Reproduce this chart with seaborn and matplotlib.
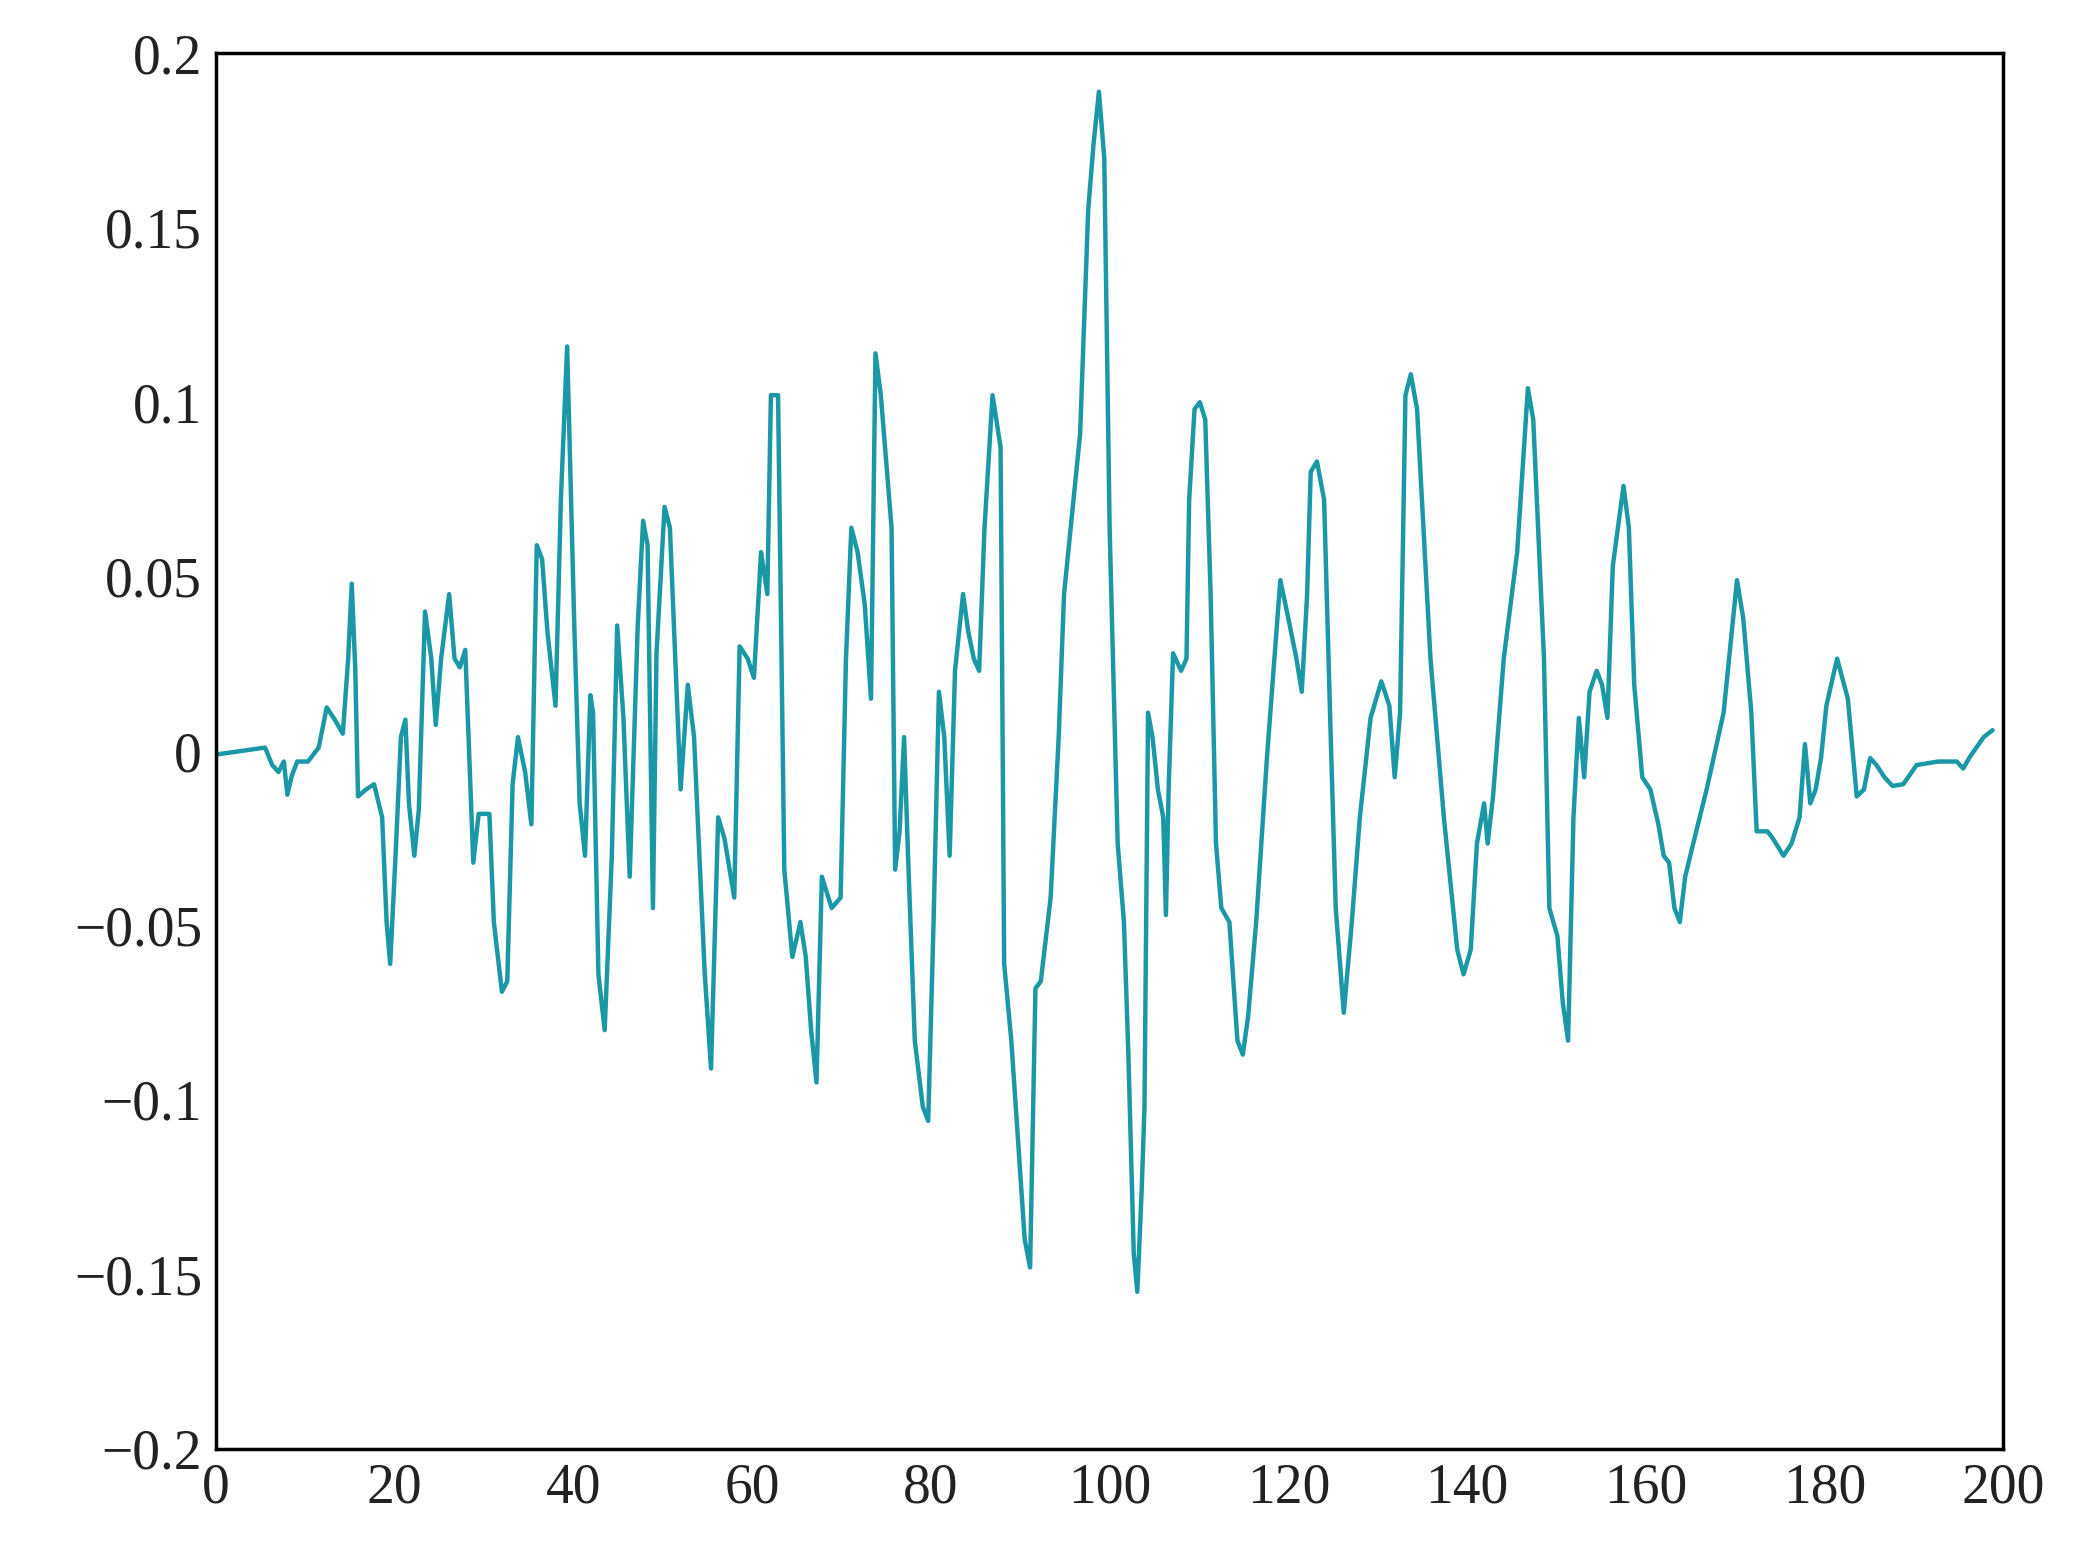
import numpy as np
import pandas as pd
import seaborn as sns
import matplotlib
matplotlib.use("Agg")
import matplotlib.pyplot as plt

x_vals = [0,5.5,6.3,7.0,7.6,8.0,8.5,9.1,10.3,11.5,12.4,13.3,14.2,14.8,15.2,15.6,15.9,16.8,17.7,18.6,19.1,19.5,20.1,20.7,21.2,21.6,22.2,22.7,23.4,24.1,24.6,25.2,26.1,26.7,27.3,27.9,28.8,29.4,30.6,31.1,32.0,32.6,33.2,33.8,34.6,35.3,35.9,36.5,37.1,38.0,38.6,39.3,40.1,40.7,41.3,41.9,42.2,42.8,43.5,44.3,44.9,45.6,46.3,47.2,47.8,48.3,48.9,49.3,50.2,50.8,51.4,52.0,52.8,53.5,54.7,55.4,56.2,56.9,58.0,58.6,59.5,60.2,61.0,61.7,62.1,62.9,63.6,64.5,65.4,66.0,66.6,67.2,67.8,68.9,69.9,70.5,71.1,71.8,72.6,73.3,73.8,74.4,75.6,76.0,76.5,77.0,77.5,78.2,79.1,79.7,80.3,80.9,81.5,82.1,82.7,83.6,84.2,84.8,85.4,86.0,86.9,87.8,88.2,89.0,89.9,90.5,91.1,91.7,92.3,93.4,94.3,94.9,95.8,96.7,97.6,98.2,98.8,99.4,100.0,100.9,101.6,102.1,102.7,103.1,103.6,103.9,104.3,104.8,105.4,106.0,106.3,106.6,107.1,108.0,108.6,108.9,109.5,110.1,110.7,111.3,111.9,112.5,113.4,114.3,114.9,115.5,116.4,117.6,119.1,120.0,120.9,121.5,122.1,122.5,123.2,124.0,124.7,125.3,126.2,127.1,128.0,129.2,130.4,131.3,131.9,132.5,133.1,133.7,134.4,135.9,137.4,138.9,139.6,140.4,141.1,141.9,142.3,142.9,144.1,145.6,146.8,147.4,148.6,149.2,150.1,150.7,151.3,151.9,152.5,153.1,153.7,154.5,155.1,155.7,156.3,157.5,158.1,158.7,159.6,160.5,161.4,162.0,162.6,163.2,163.8,164.4,165.3,166.8,168.7,170.2,170.9,171.8,172.4,173.6,174.2,175.4,176.3,177.2,177.8,178.4,179.0,179.6,180.2,181.4,182.6,183.6,184.4,185.1,185.8,186.7,187.6,188.8,190.3,192.7,194.8,195.5,196.3,197.8,198.8]
y_vals = [-0.001,0.001,-0.004,-0.006,-0.003,-0.0125,-0.007,-0.003,-0.003,0.001,0.0125,0.009,0.005,0.0265,0.048,0.023,-0.013,-0.011,-0.0095,-0.019,-0.049,-0.061,-0.030,0.004,0.009,-0.015,-0.030,-0.017,0.040,0.0265,0.0075,0.0265,0.045,0.0265,0.024,0.029,-0.032,-0.018,-0.018,-0.049,-0.069,-0.066,-0.0095,0.004,-0.006,-0.021,0.059,0.055,0.034,0.013,0.072,0.116,0.036,-0.015,-0.030,0.016,0.011,-0.064,-0.080,-0.030,0.036,0.0095,-0.036,0.036,0.066,0.059,-0.045,0.028,0.070,0.064,0.0265,-0.011,0.019,0.004,-0.064,-0.091,-0.019,-0.025,-0.042,0.030,0.0265,0.021,0.057,0.045,0.102,0.102,-0.034,-0.059,-0.049,-0.059,-0.080,-0.095,-0.036,-0.045,-0.042,0.0265,0.064,0.057,0.042,0.015,0.114,0.102,0.064,-0.034,-0.023,0.004,-0.034,-0.083,-0.102,-0.106,-0.049,0.017,0.004,-0.030,0.023,0.045,0.034,0.0265,0.023,0.064,0.102,0.087,-0.061,-0.083,-0.117,-0.140,-0.148,-0.068,-0.066,-0.042,0.004,0.045,0.068,0.091,0.155,0.174,0.189,0.170,0.064,-0.0265,-0.049,-0.087,-0.144,-0.155,-0.125,-0.102,0.011,0.004,-0.011,-0.019,-0.047,-0.011,0.028,0.023,0.0265,0.072,0.098,0.100,0.095,0.045,-0.0265,-0.045,-0.049,-0.083,-0.087,-0.076,-0.049,-0.002,0.049,0.038,0.0265,0.017,0.045,0.080,0.083,0.072,0.0075,-0.045,-0.075,-0.049,-0.019,0.0095,0.020,0.013,-0.0075,0.011,0.102,0.108,0.098,0.0265,-0.019,-0.057,-0.064,-0.057,-0.0265,-0.015,-0.0265,-0.013,0.0265,0.057,0.104,0.095,0.0265,-0.045,-0.053,-0.072,-0.083,-0.019,0.0095,-0.0075,0.017,0.023,0.019,0.0095,0.053,0.076,0.064,0.019,-0.0075,-0.011,-0.021,-0.030,-0.032,-0.045,-0.049,-0.036,-0.0265,-0.011,0.011,0.049,0.038,0.011,-0.023,-0.023,-0.025,-0.030,-0.0265,-0.019,0.002,-0.015,-0.011,-0.002,0.013,0.0265,0.015,-0.013,-0.011,-0.002,-0.004,-0.0075,-0.010,-0.0095,-0.004,-0.003,-0.003,-0.005,-0.0015,0.004,0.006]

x_ticks = [0,20,40,60,80,100,120,140,160,180,200]
y_ticks = [-0.2,-0.15,-0.1,-0.05,0,0.05,0.1,0.15,0.2]
y_labels = ["\u22120.2","\u22120.15","\u22120.1","\u22120.05","0","0.05","0.1","0.15","0.2"]

sns.set_theme(style="white")
plt.rcParams['font.family'] = ['Liberation Serif', 'DejaVu Serif']

fig = plt.figure(figsize=(20.76, 15.68), dpi=100)
ax = fig.add_axes([0.104, 0.076, 0.861, 0.890])
df = pd.DataFrame({"x": x_vals, "y": y_vals})
sns.lineplot(data=df, x="x", y="y", sort=False, ax=ax, color="#1b98a6", linewidth=3.2)
ax.set_xlim(0, 200)
ax.set_ylim(-0.2, 0.2)
ax.set_xticks(x_ticks)
ax.set_xticklabels([str(t) for t in x_ticks])
ax.set_yticks(y_ticks)
ax.set_yticklabels(y_labels)
ax.set_xlabel("")
ax.set_ylabel("")
ax.tick_params(labelsize=40, length=0, pad=10, colors="#222222")
for s in ax.spines.values():
    s.set_color("black")
    s.set_linewidth(2.5)
fig.savefig("out.png", dpi=100)
